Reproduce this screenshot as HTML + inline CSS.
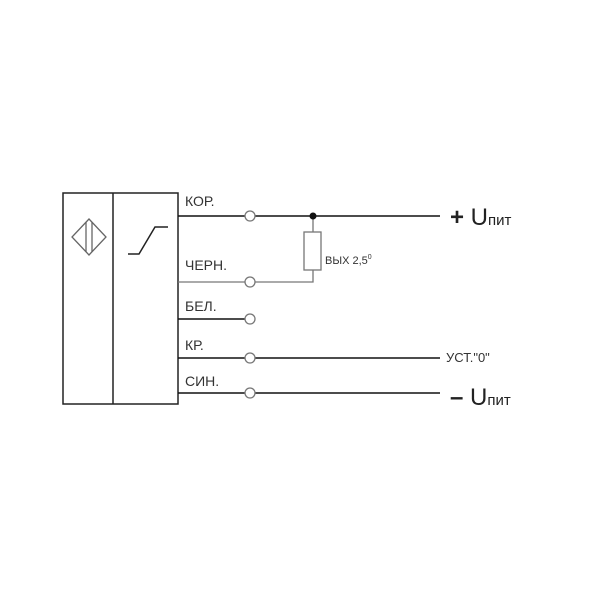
<!DOCTYPE html>
<html><head><meta charset="utf-8"><style>body{margin:0;background:#fff}</style></head>
<body>
<svg width="600" height="600" xmlns="http://www.w3.org/2000/svg" font-family="Liberation Sans, sans-serif" fill="none">
<rect x="0" y="0" width="600" height="600" fill="#fff"/>
<g stroke="#222" stroke-width="1.5">
<rect x="63" y="193" width="115" height="211"/>
<line x1="113" y1="193" x2="113" y2="404"/>
</g>
<g stroke="#666" stroke-width="1.3">
<polygon points="89,219 106,237 89,255 72,237"/>
<line x1="86" y1="222" x2="86" y2="252"/>
<line x1="92" y1="222" x2="92" y2="252"/>
<polyline points="128,254 139,254 155,227 168,227" stroke="#222" stroke-width="1.5"/>
</g>
<g stroke="#111" stroke-width="1.6">
<line x1="178" y1="216" x2="245" y2="216"/><line x1="255" y1="216" x2="440" y2="216"/>
<line x1="178" y1="358" x2="245" y2="358"/><line x1="255" y1="358" x2="440" y2="358"/>
<line x1="178" y1="393" x2="245" y2="393"/><line x1="255" y1="393" x2="440" y2="393"/>
<line x1="178" y1="319" x2="245" y2="319"/>
</g>
<g stroke="#777" stroke-width="1.3">
<line x1="178" y1="282" x2="245" y2="282"/>
<polyline points="255,282 313,282 313,270"/>
<line x1="313" y1="216" x2="313" y2="232"/>
<rect x="304" y="232" width="17" height="38"/>
</g>
<g stroke="#777" stroke-width="1.3" fill="#fff">
<circle cx="250" cy="216" r="5"/><circle cx="250" cy="282" r="5"/><circle cx="250" cy="319" r="5"/>
<circle cx="250" cy="358" r="5"/><circle cx="250" cy="393" r="5"/>
</g>
<circle cx="313" cy="216" r="3.5" fill="#111"/>
<g fill="#333" font-size="14">
<text x="185" y="206">КОР.</text>
<text x="185" y="270">ЧЕРН.</text>
<text x="185" y="311">БЕЛ.</text>
<text x="185" y="350">КР.</text>
<text x="185" y="386">СИН.</text>
<text x="325" y="264" font-size="11">ВЫХ 2,5<tspan font-size="7" dy="-5">0</tspan></text>
<text x="446" y="362" font-size="13">УСТ."0"</text>
<text x="450" y="225" font-size="24" fill="#222"><tspan font-weight="bold">+</tspan> U<tspan font-size="15">пит</tspan></text>
<text x="450" y="405" font-size="24" fill="#222"><tspan font-weight="bold">–</tspan> U<tspan font-size="15">пит</tspan></text>
</g>
</svg>
</body></html>
